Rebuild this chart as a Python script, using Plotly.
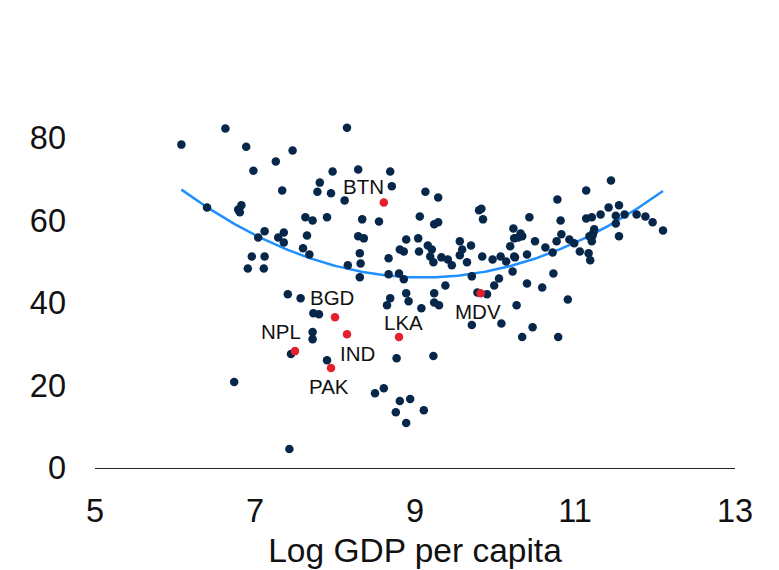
import numpy as np
import plotly.graph_objects as go

# Other countries: log GDP per capita (x) and indicator value (y)
other_x = [6.08, 6.63, 6.89, 7.47, 7.26, 6.98, 7.97, 7.81, 7.78, 7.95, 7.34, 8.12, 8.15, 6.40, 6.83,
           6.79, 6.81, 7.63, 7.72, 7.90, 7.12, 7.04, 7.29, 7.36, 7.36, 7.65, 7.60, 7.68, 6.96, 7.12,
           6.91, 7.11, 8.16, 8.29, 8.69, 8.71, 9.13, 9.29, 9.80, 9.83, 9.85, 9.06, 8.34, 8.55, 9.24,
           9.29, 10.43, 8.29, 8.36, 8.89, 9.04, 8.81, 8.86, 9.05, 9.16, 9.21, 9.19, 9.23, 9.33, 9.41,
           9.46, 9.56, 9.59, 9.56, 9.65, 9.70, 9.84, 9.97, 10.07, 10.14, 10.24, 10.40, 10.23, 10.32, 10.24,
           10.29, 10.34, 10.19, 8.31, 8.32, 8.67, 8.31, 8.67, 8.80, 9.71, 10.05, 10.22, 11.45, 11.14, 10.78,
           11.55, 11.42, 11.32, 11.14, 11.21, 11.51, 11.62, 11.77, 11.88, 11.97, 12.10, 11.51, 11.55, 10.82, 11.24,
           11.23, 11.22, 11.18, 11.21, 10.83, 10.77, 10.93, 10.99, 11.06, 11.17, 11.19, 10.72, 10.63, 10.50, 10.25,
           10.73, 10.40, 10.59, 10.91, 10.27, 10.08, 10.47, 7.41, 7.57, 7.73, 7.80, 7.72, 7.72, 7.45, 7.90,
           6.74, 7.43, 8.86, 9.38, 9.99, 8.89, 9.24, 8.69, 8.65, 8.92, 9.24, 9.30, 9.08, 9.78, 9.90,
           9.71, 10.34, 8.77, 9.23, 8.61, 8.50, 8.81, 8.94, 8.76, 9.11, 8.89, 10.79]
other_y = [78.3, 82.2, 77.8, 76.9, 74.2, 72.0, 71.8, 69.1, 66.9, 66.5, 67.2, 64.8, 82.4, 63.1, 63.6,
           62.6, 61.9, 60.7, 59.9, 60.7, 57.3, 55.8, 55.8, 57.0, 54.6, 56.3, 53.2, 51.7, 51.2, 51.2,
           48.3, 48.3, 49.1, 72.3, 71.8, 68.2, 66.9, 65.5, 62.4, 62.8, 60.2, 60.9, 60.2, 59.7, 59.0,
           59.5, 60.7, 56.1, 55.6, 55.3, 55.6, 52.9, 52.4, 52.4, 53.9, 52.9, 51.2, 49.8, 51.0, 50.5,
           49.1, 54.9, 52.9, 51.5, 49.8, 53.9, 51.2, 50.5, 51.2, 50.0, 51.2, 51.7, 58.0, 56.8, 55.6,
           55.8, 56.1, 53.7, 52.0, 49.5, 50.8, 46.2, 46.9, 47.1, 46.4, 45.9, 47.6, 69.6, 67.2, 65.0,
           63.6, 63.1, 61.4, 60.4, 60.7, 61.1, 61.4, 61.4, 60.9, 59.5, 57.5, 59.2, 56.1, 59.9, 57.8,
           57.0, 56.3, 56.1, 54.9, 56.6, 54.9, 55.3, 54.4, 52.4, 52.0, 50.3, 52.2, 53.4, 54.9, 51.0,
           47.1, 44.7, 43.7, 40.8, 39.4, 35.0, 34.1, 42.1, 41.1, 37.5, 37.2, 32.9, 31.2, 27.6, 26.1,
           20.8, 4.6, 45.7, 44.2, 44.2, 42.3, 42.3, 41.1, 39.4, 40.4, 40.1, 39.4, 38.7, 42.5, 42.1,
           34.6, 31.7, 26.6, 27.1, 19.3, 18.1, 16.2, 16.7, 13.5, 14.0, 10.9, 31.7]

# South Asian countries (highlighted)
sa_codes = ["BTN", "BGD", "IND", "NPL", "PAK", "LKA", "MDV"]
sa_x = [8.61, 8.00, 8.15, 7.50, 7.95, 8.80, 9.82]
sa_y = [64.3, 36.5, 32.4, 28.3, 24.2, 31.7, 42.3]

x_ticks = [5, 7, 9, 11, 13]
y_ticks = [0, 20, 40, 60, 80]

# label offsets in pixels (style)
label_shift = {"BTN": (-20, 16), "BGD": (-3, 20), "IND": (10, -19), "NPL": (-14, 20),
               "PAK": (-2, -18), "LKA": (4, 15), "MDV": (-3, -18)}

# Quadratic fit over all countries
all_x = np.array(other_x + sa_x)
all_y = np.array(other_y + sa_y)
coef = np.polyfit(all_x, all_y, 2)
fit_x = np.linspace(all_x.min(), all_x.max(), 200)
fit_y = np.polyval(coef, fit_x)

fig = go.Figure()
fig.add_trace(go.Scatter(x=fit_x, y=fit_y, mode="lines",
                         line=dict(color="#1f8fff", width=2.5), hoverinfo="skip"))
fig.add_trace(go.Scatter(x=other_x, y=other_y, mode="markers",
                         marker=dict(color="#06264a", size=8.5)))
fig.add_trace(go.Scatter(x=sa_x, y=sa_y, mode="markers",
                         marker=dict(color="#e5202e", size=8.5)))

for c, xv, yv in zip(sa_codes, sa_x, sa_y):
    dx, dy = label_shift[c]
    fig.add_annotation(x=xv, y=yv, text=c, showarrow=False, xshift=dx, yshift=dy,
                       font=dict(size=20.5, color="#111111", family="Liberation Sans, Arial"))

fig.update_layout(
    width=779, height=570,
    margin=dict(l=95, r=44, t=55, b=102),
    paper_bgcolor="white", plot_bgcolor="white",
    showlegend=False,
    font=dict(family="Liberation Sans, Arial", color="#111111"),
    xaxis=dict(range=[5, 13], tickvals=x_ticks, showgrid=False, zeroline=False,
               showline=True, linecolor="#222222", linewidth=1, automargin=False,
               tickfont=dict(size=32.5), ticks="", ticklabelstandoff=14,
               title=dict(text="Log GDP per capita", font=dict(size=33.5), standoff=10)),
    yaxis=dict(range=[0, 100], tickvals=y_ticks, showgrid=False, zeroline=False,
               showline=False, automargin=False, tickfont=dict(size=32.5), ticks="",
               ticklabelstandoff=28),
)

fig.write_html("out.html")
